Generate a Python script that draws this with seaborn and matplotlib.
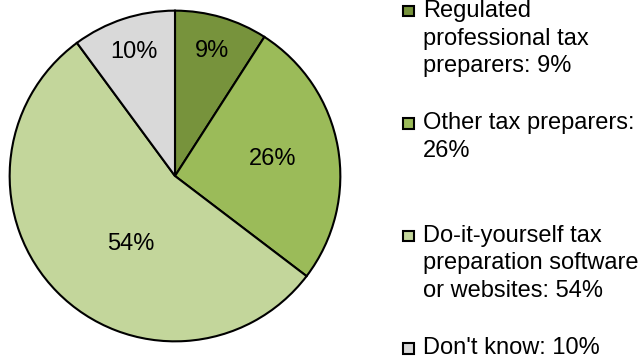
import numpy as np
import matplotlib
matplotlib.use("Agg")
import matplotlib.pyplot as plt
from matplotlib.patches import Rectangle
import seaborn as sns

# data
legend_lines = [["Regulated", "professional tax", "preparers: 9%"],
                ["Other tax preparers:", "26%"],
                ["Do-it-yourself tax", "preparation software", "or websites: 54%"],
                ["Don't know: 10%"]]
shares = [9, 26, 54, 10]
pct_labels = ["9%", "26%", "54%", "10%"]
colors = ["#77933C", "#9BBB59", "#C3D69B", "#D9D9D9"]
# label placement (fraction of radius, angle nudge in degrees)
label_dist = [0.79, 0.60, 0.49, 0.79]
label_nudge = [0, 0, 12.5, 0]

FS = 17
W, H = 642, 364

sns.set_theme(style="white")
plt.rcParams["font.family"] = ["Liberation Sans", "DejaVu Sans"]

fig = plt.figure(figsize=(W / 100, H / 100), dpi=100)
# pie spans x 8..342, y 9..343 px
ax = fig.add_axes([8 / W, 21 / H, 334 / W, 334 / H])

palette = sns.color_palette(colors)
wedges, _ = ax.pie(shares, colors=palette, startangle=90, counterclock=False,
                   radius=1, wedgeprops=dict(edgecolor="black", linewidth=1.5))
ax.set_xlim(-1.01, 1.01)
ax.set_ylim(-1.01, 1.01)
ax.set_aspect("equal")
ax.axis("off")

# percentage labels near each wedge's mid angle
for w, txt, d, nud in zip(wedges, pct_labels, label_dist, label_nudge):
    mid = np.deg2rad((w.theta1 + w.theta2) / 2 + nud)
    ax.text(d * np.cos(mid), d * np.sin(mid), txt, ha="center", va="center",
            fontsize=FS, color="black")

# legend drawn Excel-style: key square aligned with the first line,
# each entry given three line slots
pitch, gap, y = 27.5, 30.0, 11.0
for lines, col in zip(legend_lines, palette):
    fig.add_artist(Rectangle((403 / W, 1 - (y + 5.3) / H), 10.5 / W, 10.5 / H,
                             transform=fig.transFigure, facecolor=col,
                             edgecolor="black", linewidth=1.5))
    for i, line in enumerate(lines):
        fig.text(423 / W, 1 - (y + i * pitch) / H, line, ha="left", va="center",
                 fontsize=FS, color="black")
    y += 3 * pitch + gap

fig.savefig("out.png", dpi=100)
